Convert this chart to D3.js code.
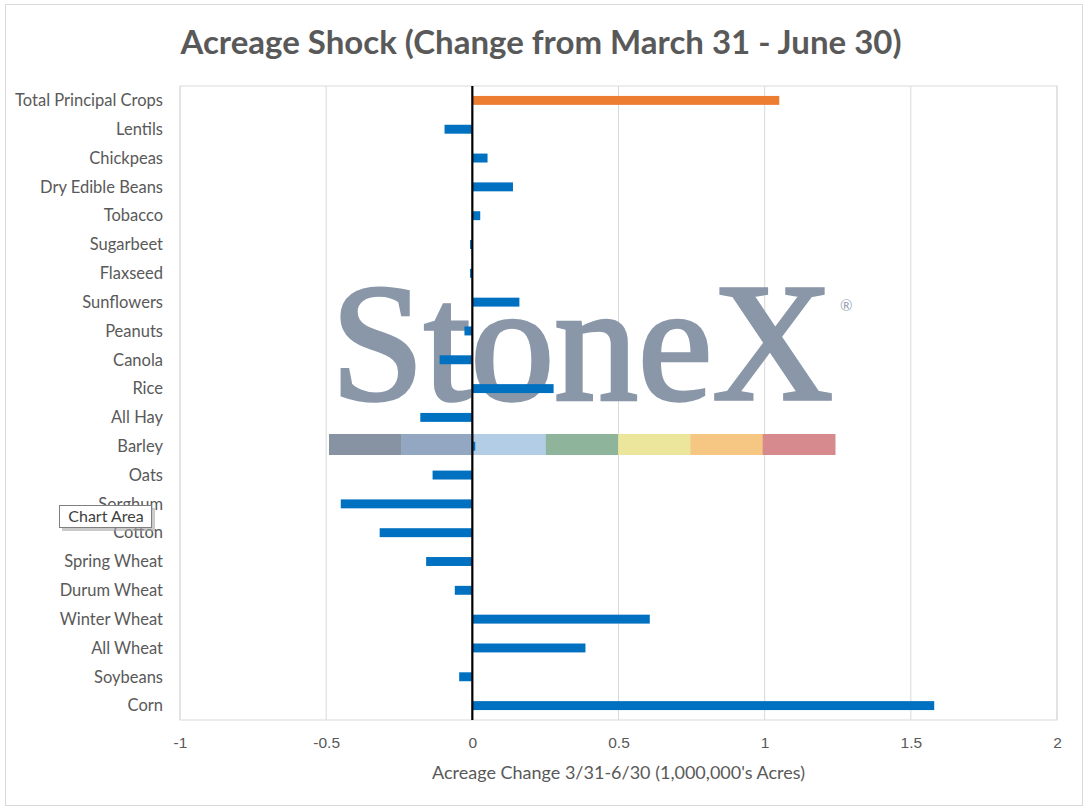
<!DOCTYPE html>
<html>
<head>
<meta charset="utf-8">
<script src="https://cdn.jsdelivr.net/npm/d3@7"></script>
<style>
  html, body { margin: 0; padding: 0; background: #fff; }
  svg { display: block; font-family: Lato, "Open Sans", sans-serif; }
</style>
</head>
<body>
<div id="chart"></div>
<script>
// crops listed top to bottom, as in the chart
const crops = ["Total Principal Crops", "Lentils", "Chickpeas", "Dry Edible Beans", "Tobacco",
  "Sugarbeet", "Flaxseed", "Sunflowers", "Peanuts", "Canola", "Rice ", "All Hay", "Barley",
  "Oats", "Sorghum", "Cotton", "Spring Wheat", "Durum Wheat", "Winter Wheat", "All Wheat",
  "Soybeans", "Corn"];
// change in acres, millions
const acreChange = [1.05, -0.095, 0.052, 0.139, 0.027, -0.008, -0.008, 0.161, -0.027, -0.112,
  0.278, -0.178, 0.01, -0.136, -0.45, -0.317, -0.158, -0.06, 0.607, 0.387, -0.045, 1.58];
const xTicks = [-1, -0.5, 0, 0.5, 1, 1.5, 2];
const stripColors = ["#8793a3", "#93a6c2", "#b3cde6", "#8fb49c", "#ece69c", "#f6c683", "#d68a8d"];

const width = 1092, height = 807;
const margin = { top: 86, right: 35, bottom: 87, left: 180 };

const svg = d3.select("#chart").append("svg")
  .attr("width", width)
  .attr("height", height);

// outer chart border
svg.append("rect")
  .attr("x", 5.5).attr("y", 4.5)
  .attr("width", 1077).attr("height", 801)
  .attr("fill", "#fff")
  .attr("stroke", "#d9d9d9");

const x = d3.scaleLinear()
  .domain([xTicks[0], xTicks[xTicks.length - 1]])
  .range([margin.left, width - margin.right]);

const y = d3.scaleBand()
  .domain(crops)
  .range([margin.top, height - margin.bottom])
  .paddingInner(0.69)
  .paddingOuter(0.345);

svg.append("text")
  .attr("x", 541)
  .attr("y", 54)
  .attr("text-anchor", "middle")
  .attr("font-size", 33)
  .attr("font-weight", "bold")
  .attr("fill", "#595959")
  .text("Acreage Shock (Change from March 31 - June 30)");

// gridlines
svg.append("g")
  .selectAll("line")
  .data(xTicks)
  .join("line")
    .attr("x1", d => x(d)).attr("x2", d => x(d))
    .attr("y1", margin.top).attr("y2", height - margin.bottom)
    .attr("stroke", "#d9d9d9");

svg.append("rect")
  .attr("x", margin.left).attr("y", margin.top)
  .attr("width", width - margin.left - margin.right)
  .attr("height", height - margin.top - margin.bottom)
  .attr("fill", "none")
  .attr("stroke", "#d9d9d9");

// logo watermark
const logo = svg.append("g").attr("class", "watermark");
logo.append("text")
  .attr("x", 331)
  .attr("y", 399)
  .style("font-family", "'Liberation Serif', 'DejaVu Serif', serif")
  .attr("font-size", 168)
  .attr("textLength", 502)
  .attr("lengthAdjust", "spacingAndGlyphs")
  .attr("fill", "#8a97a8")
  .attr("stroke", "#8a97a8")
  .attr("stroke-width", 3.5)
  .text("StoneX");
logo.append("text")
  .attr("x", 840)
  .attr("y", 311)
  .attr("font-size", 15)
  .attr("fill", "#9aa6b4")
  .text("®");

// bars
svg.append("g")
  .selectAll("rect")
  .data(acreChange)
  .join("rect")
    .attr("x", d => x(Math.min(0, d)))
    .attr("y", (d, i) => y(crops[i]))
    .attr("width", d => Math.abs(x(d) - x(0)))
    .attr("height", y.bandwidth())
    .attr("fill", (d, i) => i === 0 ? "#ed7d31" : "#0070c0");

// colour strip of the logo, over the Barley row
const stripW = (835 - 329) / stripColors.length;
logo.append("g")
  .selectAll("rect")
  .data(stripColors)
  .join("rect")
    .attr("x", (d, i) => 329 + i * stripW)
    .attr("y", 434)
    .attr("width", stripW + 0.5)
    .attr("height", 21)
    .attr("fill", d => d);

// zero line
svg.append("line")
  .attr("x1", x(0)).attr("x2", x(0))
  .attr("y1", margin.top).attr("y2", height - margin.bottom)
  .attr("stroke", "#000")
  .attr("stroke-width", 2.2);

// category labels
svg.append("g")
  .selectAll("text")
  .data(crops)
  .join("text")
    .attr("x", 163)
    .attr("y", d => y(d) + y.bandwidth() / 2)
    .attr("dy", "0.35em")
    .attr("text-anchor", "end")
    .attr("font-size", 16.5)
    .attr("fill", "#595959")
    .text(d => d);

// x axis
const axisX = d3.axisBottom(x)
  .tickValues(xTicks)
  .tickSize(0)
  .tickPadding(17)
  .tickFormat(d => String(d));
const gx = svg.append("g")
  .attr("transform", `translate(0,${height - margin.bottom})`)
  .call(axisX);
gx.select(".domain").remove();
gx.selectAll("text")
  .attr("font-family", null)
  .attr("font-size", 15.5)
  .attr("fill", "#595959");

svg.append("text")
  .attr("x", (x.range()[0] + x.range()[1]) / 2)
  .attr("y", 779)
  .attr("text-anchor", "middle")
  .attr("font-size", 18)
  .attr("fill", "#595959")
  .text("Acreage Change 3/31-6/30 (1,000,000's Acres)");

// "Chart Area" hover box left over from the screenshot
const tip = svg.append("g");
tip.append("rect")
  .attr("x", 62).attr("y", 508)
  .attr("width", 93).attr("height", 23)
  .attr("fill", "#a6a6a6")
  .attr("opacity", 0.6);
tip.append("rect")
  .attr("x", 59.5).attr("y", 505.5)
  .attr("width", 92).attr("height", 22)
  .attr("fill", "#fff")
  .attr("stroke", "#7f7f7f");
tip.append("text")
  .attr("x", 106)
  .attr("y", 522)
  .attr("text-anchor", "middle")
  .attr("font-size", 16)
  .attr("fill", "#404040")
  .text("Chart Area");
</script>
</body>
</html>
